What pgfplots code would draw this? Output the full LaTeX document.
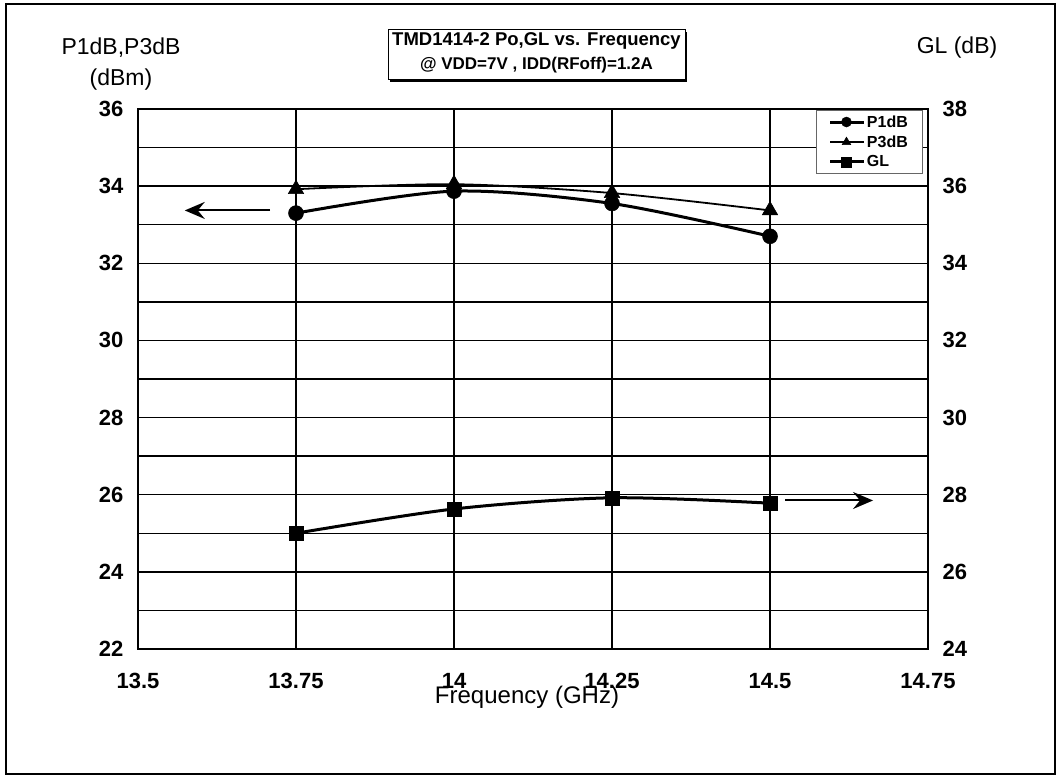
\documentclass[border=0pt]{standalone}
\usepackage{pgfplots}
\pgfplotsset{compat=1.18}
\usepackage{fontspec}
\setmainfont{Liberation Sans}
\usetikzlibrary{arrows.meta,shadows}
\begin{document}
\begin{tikzpicture}[x=1pt,y=1pt]
\useasboundingbox (0,0) rectangle (1062,775);
\draw[line width=1.5pt] (6,1) rectangle (1055,771);
\pgfplotsset{
  every axis/.append style={scale only axis, width=790pt, height=540pt,
    at={(138pt,126pt)}, anchor=south west,
    /pgf/number format/assume math mode=true,
    tick label style={font=\fontsize{22}{25}\selectfont\bfseries},
    major tick length=0pt, minor tick length=0pt,
    xmin=13.5, xmax=14.75, clip=false},
  p1/.style={black, line width=3pt, smooth, mark=*, mark size=7.5pt, mark options={line width=0.5pt}},
  p3/.style={black, line width=1.8pt, smooth, mark=triangle*, mark size=9pt, mark options={line width=0.5pt}},
  gl/.style={black, line width=3pt, smooth, mark=square*, mark size=7pt, mark options={line width=0.5pt}},
}
\begin{axis}[
  ymin=22, ymax=36,
  xtick={13.5,13.75,14,14.25,14.5,14.75},
  ytick={22,24,...,36}, minor ytick={23,25,...,35},
  grid=both,
  grid style={line width=1.5pt, black},
  minor grid style={line width=1.5pt, black},
  axis line style={line width=2pt},
  xticklabel style={yshift=-21pt},
  yticklabel style={xshift=-11pt},
]
\addplot[p1] coordinates {(13.75,33.30) (14,33.87) (14.25,33.55) (14.5,32.70)};
\addplot[p3] coordinates {(13.75,33.92) (14,34.05) (14.25,33.82) (14.5,33.37)};
\draw[line width=2pt, -{Stealth[length=20pt,width=17pt,inset=7pt]}] (axis cs:13.709,33.37) -- (axis cs:13.574,33.37);
\end{axis}
\begin{axis}[
  ymin=24, ymax=38,
  axis y line*=right, axis x line=none,
  axis line style={line width=2pt},
  ytick={24,26,...,38},
  yticklabel style={xshift=11pt},
  legend style={at={(0.994,0.998)}, anchor=north east, draw=black!60, line width=0.8pt,
    font=\fontsize{16}{18}\selectfont\bfseries, inner xsep=13pt, inner ysep=3pt, row sep=3pt},
  legend cell align=left,
  legend image code/.code={\draw[#1, mark size=5pt, mark repeat=2, mark phase=2] plot coordinates {(0pt,0pt) (16pt,0pt) (33pt,0pt)};},
  legend style={/tikz/every even column/.append style={column sep=0pt}},
]
\addlegendimage{p1}
\addlegendentry{P1dB}
\addlegendimage{p3}
\addlegendentry{P3dB}
\addplot[gl] coordinates {(13.75,27.0) (14,27.63) (14.25,27.92) (14.5,27.78)};
\addlegendentry{GL}
\draw[line width=2pt, -{Stealth[length=20pt,width=17pt,inset=7pt]}] (axis cs:14.524,27.85) -- (axis cs:14.663,27.85);
\end{axis}
\node[font=\fontsize{23}{26}\selectfont] at (121,727) {P1dB,P3dB};
\node[font=\fontsize{23}{26}\selectfont] at (121,695) {(dBm)};
\node[font=\fontsize{23}{26}\selectfont] at (957,727) {GL (dB)};
\node[font=\fontsize{24}{26}\selectfont] at (527,78) {Frequency (GHz)};
\draw[fill=white, line width=1pt, drop shadow={shadow xshift=2pt, shadow yshift=-2pt, opacity=1, fill=black}] (388,695) rectangle (685,745);
\node[font=\fontsize{18.5}{20}\selectfont\bfseries] at (536.5,734) {TMD1414-2 Po,GL vs. Frequency};
\node[font=\fontsize{17}{19}\selectfont\bfseries] at (536.5,710) {@ VDD=7V , IDD(RFoff)=1.2A};
\end{tikzpicture}
\end{document}
